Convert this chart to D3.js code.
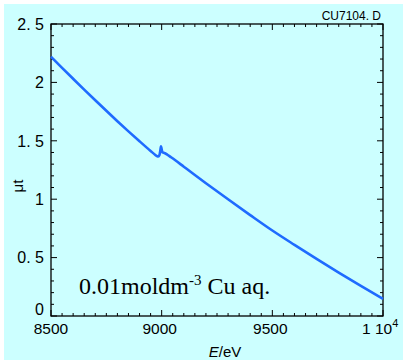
<!DOCTYPE html>
<html><head><meta charset="utf-8">
<script src="https://cdn.jsdelivr.net/npm/d3@7"></script>
<style>body{margin:0;background:#fff}svg{display:block}</style>
</head><body>
<script>
const energy = [8500,8550,8600,8650,8700,8750,8800,8850,8900,8950,8970,8980,8985,8990,8994,8997,9000,9003,9008,9015,9025,9040,9060,9100,9150,9200,9300,9400,9500,9600,9700,9800,9900,10000];
const mut    = [2.220,2.125,2.031,1.938,1.847,1.757,1.668,1.581,1.496,1.413,1.381,1.368,1.366,1.378,1.418,1.452,1.428,1.405,1.398,1.393,1.382,1.362,1.335,1.278,1.207,1.137,0.999,0.864,0.732,0.609,0.489,0.372,0.258,0.147];
const xTicks = [8500,9000,9500,10000];
const xTickLabels = ["8500","9000","9500","1 10"];
const yTicks = [0,0.5,1,1.5,2,2.5];
const yTickLabels = ["0","0. 5","1","1. 5","2","2. 5"];

const W=403,H=360;
const svg=d3.select("body").append("svg").attr("width",W).attr("height",H);
svg.append("rect").attr("x",4).attr("y",4).attr("width",W-4).attr("height",H-4).attr("fill","#ccffff");

const x=d3.scaleLinear().domain([8500,10000]).range([51,383]);
const y=d3.scaleLinear().domain([0,2.5]).range([316,24]);
const tickFont="'Liberation Sans Narrow','Arial Narrow','Liberation Sans',sans-serif";

const g=svg.append("g").attr("stroke","#000").attr("stroke-width",1);
d3.range(8500,10001,50).forEach(v=>{
  const major = v%500===0; const L= major?6:3;
  g.append("line").attr("x1",x(v)).attr("x2",x(v)).attr("y1",316).attr("y2",316-L);
  g.append("line").attr("x1",x(v)).attr("x2",x(v)).attr("y1",24).attr("y2",24+L);
});
d3.range(0,26).forEach(i=>{
  const v=i/10; const major=i%5===0; const L=major?6:3;
  g.append("line").attr("x1",51).attr("x2",51+L).attr("y1",y(v)).attr("y2",y(v));
  g.append("line").attr("x1",383).attr("x2",383-L).attr("y1",y(v)).attr("y2",y(v));
});
svg.append("rect").attr("x",51).attr("y",24).attr("width",332).attr("height",292)
  .attr("fill","none").attr("stroke","#000").attr("stroke-width",1.3);

svg.append("path").datum(energy.map((e,i)=>[e,mut[i]]))
  .attr("fill","none").attr("stroke","#1f6bff").attr("stroke-width",2.6)
  .attr("stroke-linejoin","round")
  .attr("d",d3.line().x(d=>x(d[0])).y(d=>y(d[1])).curve(d3.curveMonotoneX));

yTicks.forEach((v,i)=>{
  svg.append("text").attr("x",44).attr("y",y(v)-(v===0?7:0)).attr("dy","0.36em")
    .attr("text-anchor","end").attr("font-family",tickFont).attr("font-size",16)
    .text(yTickLabels[i]);
});
xTicks.forEach((v,i)=>{
  const t=svg.append("text").attr("y",334).attr("font-family",tickFont).attr("font-size",15.5);
  if(v===10000){
    t.attr("x",362).attr("text-anchor","start").text(xTickLabels[i]);
    t.append("tspan").attr("dy",-7).attr("font-size",11).text("4");
  } else {
    t.attr("x",x(v)-(v===8500?0:2)).attr("text-anchor","middle").text(xTickLabels[i]);
  }
});
const xt=svg.append("text").attr("x",225).attr("y",357).attr("text-anchor","middle")
  .attr("font-family",tickFont).attr("font-size",15);
xt.append("tspan").attr("font-style","italic").text("E");
xt.append("tspan").text("/eV");
svg.append("text").attr("transform","translate(23,186) rotate(-90)").attr("text-anchor","middle")
  .attr("font-family",tickFont).attr("font-size",15).text("\u03bct");
svg.append("text").attr("x",381).attr("y",20).attr("text-anchor","end")
  .attr("font-family",tickFont).attr("font-size",12).text("CU7104. D");
const an=svg.append("text").attr("x",79).attr("y",294)
  .attr("font-family","'Liberation Serif','Times New Roman',serif").attr("font-size",24);
an.append("tspan").text("0.01moldm");
an.append("tspan").attr("dy",-9).attr("font-size",15).text("-3");
an.append("tspan").attr("dy",9).text(" Cu aq.");
</script>
</body></html>
